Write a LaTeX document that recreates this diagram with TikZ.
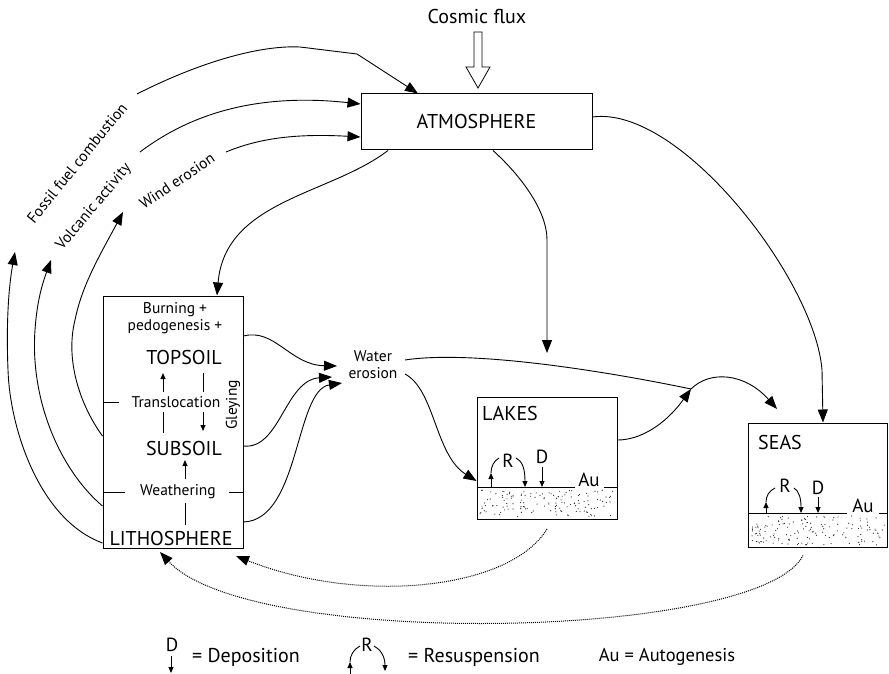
\documentclass[tikz,border=0pt]{standalone}
\usepackage{fontspec}
\setmainfont{PT Sans}
\usetikzlibrary{arrows.meta,calc}
\begin{document}
\begin{tikzpicture}[x=1pt,y=-1pt,
  line width=0.9pt,
  tip/.style={-{Triangle[length=13pt,width=10pt]}},
  stip/.style={-{Triangle[length=6pt,width=5pt]}},
  box/.style={draw, line width=1pt, inner sep=0pt},
  big/.style={font=\fontsize{20}{23}\selectfont, inner sep=0pt},
  mid/.style={font=\fontsize{20}{23}\selectfont, inner sep=0pt},
  lbl/.style={font=\fontsize{19}{22}\selectfont, inner sep=0pt},
  sml/.style={font=\fontsize{15.5}{18}\selectfont, inner sep=0pt},
  dotline/.style={densely dotted, line width=1pt},
  speck/.style={fill=black!85},
]
\useasboundingbox (0,0) rectangle (889,674);

% ---------- boxes ----------
\node[box, minimum width=231pt, minimum height=56pt, big] (atm) at (476.5,122) {ATMOSPHERE};
\node[box, minimum width=140pt, minimum height=252pt] (soil) at (173,422) {};
\node[box, minimum width=140pt, minimum height=122pt] (lakes) at (547,458) {};
\node[box, minimum width=139pt, minimum height=124pt] (seas) at (817.5,485) {};

% ---------- cosmic flux ----------
\node[mid] (cosmic) at (477,17) {Cosmic flux};
\draw[line width=0.8pt, fill=white] (474,32) -- (482,32) -- (482,67) -- (490,67) -- (478,88) -- (466,67) -- (474,67) -- cycle;

% ---------- left labels ----------
\node[sml, rotate=51] (fossil) at (77,163) {Fossil fuel combustion};
\node[sml, rotate=50] (volc) at (94,207) {Volcanic activity};
\node[sml, rotate=34] (wind) at (177,181) {Wind erosion};

\coordinate (f0) at (137,94);
\coordinate (v0) at (140,152);
\coordinate (w0) at (226,152);

% flows into atmosphere
\draw[tip] (f0) .. controls (200,62) and (260,45) .. (300,47) -- (357,54) -- (atm.north west -| 418,0);
\draw[tip] (v0) .. controls (185,118) and (250,92) .. (atm.west |- 0,104);
\draw[tip] (w0) .. controls (255,140) and (290,133) .. (atm.west |- 0,137);

% flows from soil
\draw[tip] (soil.west |- 0,543) .. controls (40,520) and (10,430) .. (8,370) .. controls (6,320) and (9,285) .. (15,252);
\draw[tip] (soil.west |- 0,506) .. controls (60,470) and (30,400) .. (35,330) .. controls (37,300) and (43,282) .. (51,260);
\draw[tip] (soil.west |- 0,436) .. controls (80,405) and (65,360) .. (75,320) .. controls (82,285) and (100,255) .. (123,212);

% atmosphere outflows
\draw[tip] (atm.south west -| 388,0) .. controls (330,195) and (225,200) .. (soil.north -| 217,0);
\draw[tip] (atm.south -| 493,0) .. controls (520,175) and (547,210) .. (547,240) -- (547,353);
\draw[tip] (atm.east |- 0,117) .. controls (680,105) and (815,280) .. (822,370) -- (seas.north -| 823,0);

% ---------- soil contents ----------
\node[sml] (burn) at (175,310) {Burning +};
\node[sml] (pedo) at (175,327) {pedogenesis +};
\node[big] (top) at (184,357) {TOPSOIL};
\node[sml] (trans) at (176,402) {Translocation};
\node[big] (sub) at (184,448) {SUBSOIL};
\node[sml] (weath) at (178,492) {Weathering};
\node[big] (litho) at (171,538) {LITHOSPHERE};
\node[sml, rotate=90] (gley) at (233,405) {Gleying};

\draw[stip] (163,392) -- (163,373);
\draw (203,373) -- (203,392);
\draw (soil.west |- trans) -- (119,402);
\draw (163,412) -- (163,433);
\draw[stip] (203,412) -- (203,431);
\draw[stip] (185,479) -- (185,460);
\draw (soil.west |- weath) -- (125,492);
\draw (229,492) -- (soil.east |- weath);
\draw (185,503) -- (185,525);

% ---------- water erosion ----------
\node[sml, align=center] (water) at (373,365) {Water\\[-1pt]erosion};
\draw[tip] (soil.east |- 0,336) .. controls (275,328) and (290,365) .. (337,366);
\draw[tip] (soil.east |- 0,446) .. controls (280,450) and (285,380) .. (332,377);
\draw[tip] (soil.east |- 0,522) .. controls (300,520) and (295,390) .. (342,383);

\coordinate (junc) at (691,389);
\draw (405,360) .. controls (470,350) and (600,370) .. (junc);
\draw[tip] (405,374) .. controls (435,390) and (435,455) .. (lakes.west |- 0,481);
\draw[tip] (lakes.east |- 0,440) .. controls (640,440) and (665,425) .. (junc);
\draw[tip] (junc) .. controls (710,370) and (745,373) .. (777,409);

% ---------- lakes ----------
\node[mid] (lakest) at (510,413) {LAKES};
\pgfmathsetseed{11}
\foreach \i in {1,...,140} {
  \pgfmathsetmacro\dx{480+134*rnd}
  \pgfmathsetmacro\dy{490+27*rnd}
  \fill[speck] (\dx,\dy) circle (0.6);
}
\draw (lakes.west |- 0,487) -- (575,487);
\draw (604,487) -- (lakes.east |- 0,487);
\node[lbl] (lau) at (589,480) {Au};
\node[lbl] (lr) at (508,461) {R};
\node[lbl] (ld) at (542,457) {D};
\draw[stip] (542,467) -- (542,487);
\draw[stip] (491,487) -- (491,473);
\draw (491,473) .. controls (491,466) and (494,461) .. (499,458);
\draw[stip] (516,458) .. controls (522,461) and (525,468) .. (525,487);

% ---------- seas ----------
\node[mid] (seast) at (780,442) {SEAS};
\pgfmathsetseed{23}
\foreach \i in {1,...,150} {
  \pgfmathsetmacro\dx{751+134*rnd}
  \pgfmathsetmacro\dy{516+29*rnd}
  \fill[speck] (\dx,\dy) circle (0.6);
}
\draw (seas.west |- 0,513) -- (847,513);
\draw (879,513) -- (seas.east |- 0,513);
\node[lbl] (sau) at (863,506) {Au};
\node[lbl] (sr) at (785,486) {R};
\node[lbl] (sd) at (818,488) {D};
\draw[stip] (818,497) -- (818,513);
\draw[stip] (766,513) -- (766,502);
\draw (766,502) .. controls (766,496) and (769,491) .. (775,488);
\draw[stip] (794,488) .. controls (799,491) and (801,498) .. (801,513);

% ---------- dotted returns ----------
\draw[dotline, -{Triangle[length=13pt,width=10pt]}] (lakes.south |- 0,529) .. controls (510,590) and (360,605) .. (236,556);
\draw[dotline, -{Triangle[length=13pt,width=10pt]}] (seas.south -| 803,0) ++(0,8) .. controls (760,640) and (250,650) .. (160,552);

% ---------- legend ----------
\node[lbl] (legd) at (172,645) {D};
\draw[stip] (171,656) -- (171,673);
\node[mid] (legdt) at (246,657) {= Deposition};
\node[lbl] (legr) at (367,645) {R};
\draw[stip] (350,674) -- (350,662);
\draw (350,662) .. controls (350,655) and (354,649) .. (360,646);
\draw[stip] (374,646) .. controls (380,649) and (385,656) .. (385,671);
\node[mid] (legrt) at (474,657) {= Resuspension};
\node[font=\fontsize{18.5}{22}\selectfont, inner sep=0pt] (legau) at (667,657) {Au = Autogenesis};
\end{tikzpicture}
\end{document}
